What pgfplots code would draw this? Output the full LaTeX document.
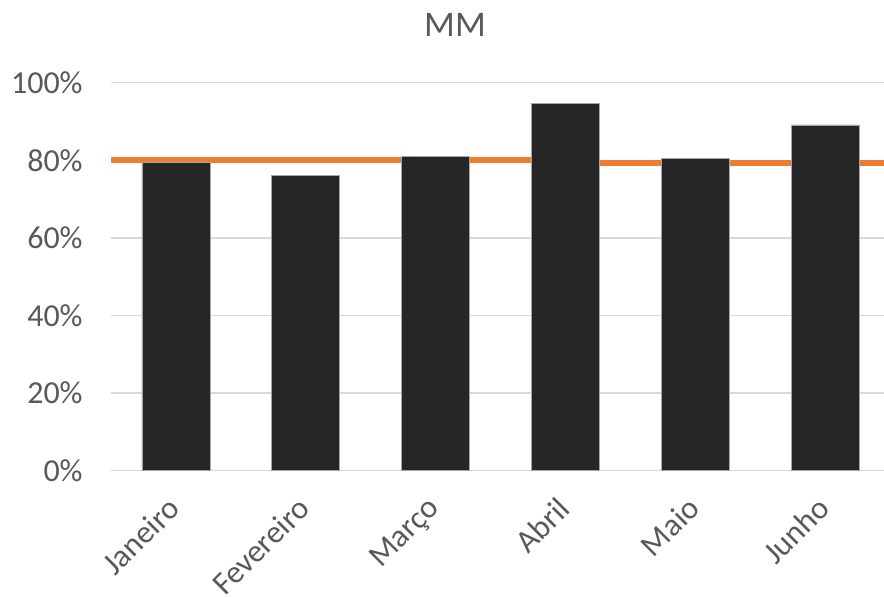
\documentclass[border=0pt]{standalone}
\usepackage{fontspec}
\setmainfont{Carlito}
\usepackage{pgfplots}
\pgfplotsset{compat=1.18}
\definecolor{barc}{HTML}{262626}
\definecolor{orn}{HTML}{ED7D31}
\definecolor{grd}{HTML}{D9D9D9}
\definecolor{txt}{HTML}{595959}
\begin{document}
\begin{tikzpicture}
\begin{axis}[
 at={(0,0)}, anchor=south west,
 scale only axis, width=386.5pt, height=194pt,
 xmin=-0.5, xmax=5.45, ymin=0, ymax=100,
 axis line style={draw=none},
 xtick={0,...,5}, xticklabels={Janeiro,Fevereiro,Março,Abril,Maio,Junho},
 ytick={0,20,...,100}, yticklabel={\pgfmathprintnumber{\tick}\%},
 ymajorgrids, grid style={grd, line width=0.75pt},
 tick style={draw=none},
 ticklabel style={font=\fontsize{16}{19}\selectfont, text=txt},
 /pgf/number format/assume math mode=true,
 xticklabel style={xshift=-5pt, yshift=-12pt, rotate=45, anchor=north east, inner sep=0pt},
 yticklabel style={anchor=east, inner sep=0pt, xshift=-14pt},
 clip=false,
]
\addplot[orn, line width=3pt] coordinates {(-0.5,80.05) (3,80.05) (3,79.35) (5.45,79.35)};
\addplot[ybar, bar width=34pt, fill=barc, draw=gray!70, line width=0.4pt] coordinates {(0,79.4) (1,76.2) (2,81.1) (3,94.7) (4,80.5) (5,89.1)};
\end{axis}
\node[text=txt, font=\fontsize{18}{22}\selectfont] at (172pt,222.85pt) {MM};
\pgfresetboundingbox
\path[use as bounding box] (-55.5pt,-63.15pt) rectangle (386.5pt,235.35pt);
\end{tikzpicture}
\end{document}
